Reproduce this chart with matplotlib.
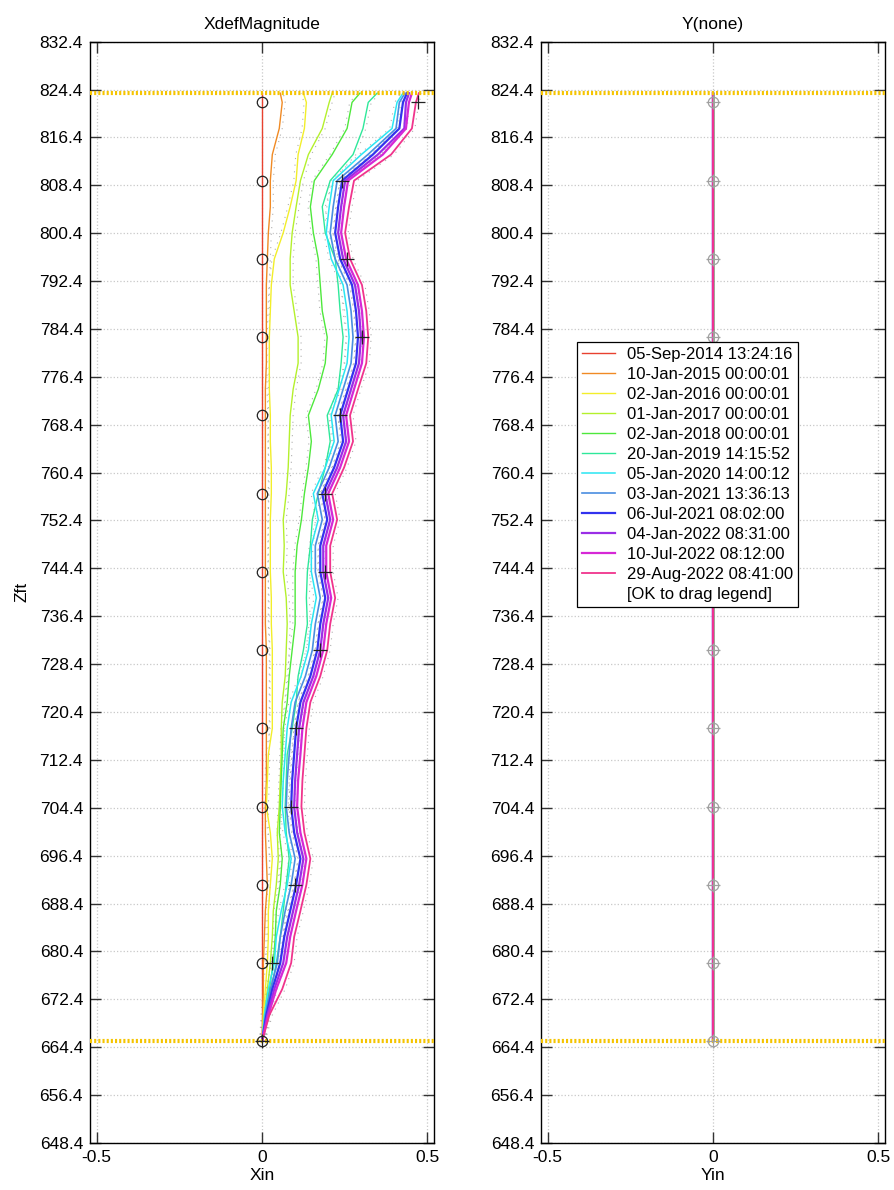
import numpy as np
import matplotlib.pyplot as plt
from matplotlib.lines import Line2D

plt.rcParams['font.family'] = ['Liberation Sans', 'DejaVu Sans']

# depth of each reading (ft): regular stations plus the top reading
depth = np.append(np.linspace(665.4, 822.25, 37), 823.8)
marker_depth = depth[0:37:3]
top_depth = 823.8
bottom_depth = 665.4

survey_dates = ["05-Sep-2014 13:24:16", "10-Jan-2015 00:00:01", "02-Jan-2016 00:00:01",
                "01-Jan-2017 00:00:01", "02-Jan-2018 00:00:01", "20-Jan-2019 14:15:52",
                "05-Jan-2020 14:00:12", "03-Jan-2021 13:36:13", "06-Jul-2021 08:02:00",
                "04-Jan-2022 08:31:00", "10-Jul-2022 08:12:00", "29-Aug-2022 08:41:00"]
colors = ["#e8412f", "#f08a24", "#f2ee2a", "#b4f02c", "#4ee83c", "#2ee89a",
          "#2ae6f2", "#4a8ee0", "#3232ee", "#9a2ee6", "#d628d6", "#f0348c"]
widths = [1.0, 1.0, 1.0, 1.0, 1.0, 1.0, 1.1, 1.2, 1.6, 1.6, 1.6, 1.3]

# cumulative displacement, inches (bottom to top)
x_2014 = [0.0] * len(depth)
x_2015 = [0.0, 0.002, 0.004, 0.004, 0.007, 0.010, 0.016, 0.013, 0.010, 0.010, 0.013, 0.013, 0.013,
          0.013, 0.013, 0.013, 0.010, 0.010, 0.010, 0.010, 0.010, 0.010, 0.010, 0.010, 0.010,
          0.010, 0.013, 0.013, 0.013, 0.013, 0.016, 0.019, 0.025, 0.025, 0.031, 0.052, 0.061, 0.055]
x_2016 = [0.0, 0.004, 0.010, 0.016, 0.019, 0.019, 0.025, 0.031, 0.025, 0.013, 0.016, 0.019, 0.031,
          0.031, 0.031, 0.031, 0.028, 0.028, 0.025, 0.025, 0.025, 0.028, 0.028, 0.025, 0.025,
          0.022, 0.022, 0.022, 0.025, 0.028, 0.037, 0.064, 0.085, 0.103, 0.109, 0.128, 0.134, 0.125]
x_2017 = [0.0, 0.007, 0.016, 0.025, 0.031, 0.034, 0.043, 0.049, 0.046, 0.052, 0.055, 0.058, 0.058,
          0.061, 0.070, 0.073, 0.076, 0.073, 0.064, 0.067, 0.064, 0.073, 0.079, 0.082, 0.085,
          0.094, 0.109, 0.109, 0.097, 0.085, 0.085, 0.091, 0.103, 0.116, 0.140, 0.182, 0.203, 0.212]
x_2018 = [0.0, 0.010, 0.022, 0.034, 0.040, 0.043, 0.055, 0.061, 0.052, 0.055, 0.058, 0.061, 0.064,
          0.076, 0.082, 0.091, 0.100, 0.100, 0.100, 0.106, 0.119, 0.128, 0.140, 0.149, 0.140,
          0.170, 0.191, 0.197, 0.182, 0.176, 0.170, 0.155, 0.146, 0.158, 0.212, 0.257, 0.272, 0.296]
x_2019 = [0.0, 0.013, 0.028, 0.043, 0.055, 0.064, 0.073, 0.082, 0.073, 0.070, 0.073, 0.076, 0.091,
          0.103, 0.109, 0.125, 0.137, 0.134, 0.137, 0.146, 0.152, 0.170, 0.191, 0.206, 0.197,
          0.230, 0.239, 0.245, 0.236, 0.230, 0.221, 0.191, 0.182, 0.206, 0.275, 0.305, 0.321, 0.348]
x_2020 = [0.0, 0.007, 0.019, 0.037, 0.043, 0.058, 0.076, 0.088, 0.070, 0.061, 0.064, 0.070, 0.076,
          0.088, 0.118, 0.140, 0.149, 0.164, 0.149, 0.149, 0.170, 0.155, 0.191, 0.218, 0.209,
          0.233, 0.257, 0.263, 0.257, 0.245, 0.209, 0.194, 0.203, 0.215, 0.300, 0.393, 0.408, 0.426]
x_2021a = [0.0, 0.010, 0.025, 0.046, 0.055, 0.070, 0.088, 0.100, 0.082, 0.073, 0.076, 0.082, 0.088,
           0.100, 0.131, 0.152, 0.161, 0.176, 0.161, 0.161, 0.182, 0.167, 0.203, 0.230, 0.221,
           0.245, 0.269, 0.275, 0.269, 0.257, 0.221, 0.206, 0.215, 0.227, 0.320, 0.405, 0.415, 0.432]
x_2021b = [0.0, 0.013, 0.031, 0.055, 0.067, 0.085, 0.103, 0.116, 0.097, 0.088, 0.091, 0.097, 0.103,
           0.116, 0.146, 0.167, 0.176, 0.191, 0.176, 0.176, 0.197, 0.182, 0.218, 0.245, 0.236,
           0.260, 0.284, 0.290, 0.284, 0.272, 0.236, 0.221, 0.230, 0.242, 0.335, 0.415, 0.426, 0.438]
x_2022a = [0.0, 0.016, 0.037, 0.064, 0.076, 0.094, 0.112, 0.125, 0.106, 0.097, 0.100, 0.106, 0.112,
           0.125, 0.155, 0.176, 0.185, 0.200, 0.185, 0.185, 0.206, 0.191, 0.227, 0.254, 0.245,
           0.269, 0.293, 0.299, 0.293, 0.281, 0.245, 0.230, 0.239, 0.251, 0.350, 0.430, 0.435, 0.444]
x_2022b = [0.0, 0.019, 0.043, 0.073, 0.085, 0.103, 0.122, 0.134, 0.116, 0.106, 0.109, 0.116, 0.122,
           0.134, 0.164, 0.185, 0.194, 0.209, 0.194, 0.194, 0.215, 0.200, 0.236, 0.263, 0.254,
           0.278, 0.302, 0.308, 0.302, 0.290, 0.254, 0.239, 0.248, 0.260, 0.365, 0.435, 0.444, 0.453]
x_2022c = [0.0, 0.022, 0.061, 0.088, 0.097, 0.116, 0.134, 0.146, 0.128, 0.119, 0.122, 0.128, 0.134,
           0.146, 0.176, 0.197, 0.206, 0.221, 0.206, 0.206, 0.227, 0.212, 0.248, 0.275, 0.266,
           0.290, 0.315, 0.321, 0.315, 0.302, 0.266, 0.251, 0.263, 0.278, 0.390, 0.453, 0.465, 0.474]
x_series = [x_2014, x_2015, x_2016, x_2017, x_2018, x_2019,
            x_2020, x_2021a, x_2021b, x_2022a, x_2022b, x_2022c]

# Y direction has no readings
y_series = [[0.0] * len(depth) for _ in survey_dates]

# reference markers
circle_x = [0.0] * len(marker_depth)
plus_x = [0.0, 0.029, 0.099, 0.087, 0.102, 0.175, 0.190, 0.190, 0.235, 0.303, 0.257, 0.242, 0.471]

yticks = np.arange(648.4, 832.5, 8.0)

fig = plt.figure(figsize=(8.95, 11.9), dpi=100)
axL = fig.add_axes([0.1006, 0.0395, 0.3844, 0.9255])
axR = fig.add_axes([0.6045, 0.0395, 0.3844, 0.9255])


def style_axis(ax, title, xlabel):
    ax.set_xlim(-0.52, 0.52)
    ax.set_ylim(648.4, 832.4)
    ax.set_yticks(yticks)
    ax.set_yticklabels(["%.1f" % t for t in yticks])
    ax.set_xticks([-0.5, 0, 0.5])
    ax.set_xticklabels(["-0.5", "0", "0.5"])
    ax.tick_params(direction='in', length=8, width=1, top=True, right=True,
                   labelsize=12.5, pad=5, color='#333333')
    ax.grid(True, color='#c8c8c8', linestyle=':', linewidth=0.9)
    ax.set_axisbelow(True)
    ax.set_title(title, fontsize=12.5, pad=9)
    ax.set_xlabel(xlabel, fontsize=12.5, labelpad=2)
    for sp in ax.spines.values():
        sp.set_linewidth(1.0)
    for d in (top_depth, bottom_depth):
        ax.axhline(d, color='#f5c400', linewidth=3, linestyle=(0, (0.5, 0.5)), zorder=4)


style_axis(axL, "XdefMagnitude", "Xin")
style_axis(axR, "Y(none)", "Yin")
axL.set_ylabel("Zft", fontsize=12.5, labelpad=7)

# left: faint gray raw traces then coloured profiles
for i, xs in enumerate(x_series[1:], start=1):
    off = 0.009 if i % 2 else -0.007
    axL.plot(np.array(xs) + off, depth, color='#b0b0b0', linewidth=0.8,
             linestyle=(0, (1, 5)), zorder=2)
for xs, c, w, lab in zip(x_series, colors, widths, survey_dates):
    axL.plot(xs, depth, color=c, linewidth=w, label=lab, zorder=3)
axL.plot(circle_x, marker_depth, linestyle='none', marker='o', markersize=7.5,
         markerfacecolor='none', markeredgecolor='#222222', markeredgewidth=0.9, zorder=5)
axL.plot(plus_x, marker_depth, linestyle='none', marker='+', markersize=10,
         color='#222222', markeredgewidth=0.9, zorder=5)

# right
for ys, c, w, lab in zip(y_series, colors, widths, survey_dates):
    axR.plot(ys, depth, color=c, linewidth=w, label=lab, zorder=3)
axR.plot(circle_x, marker_depth, linestyle='none', marker='o', markersize=7.5,
         markerfacecolor='none', markeredgecolor='#a0a0a0', markeredgewidth=0.9, zorder=5)
axR.plot(circle_x, marker_depth, linestyle='none', marker='+', markersize=10,
         color='#a0a0a0', markeredgewidth=0.9, zorder=5)

handles = [Line2D([], [], color=c, linewidth=w) for c, w in zip(colors, widths)]
handles.append(Line2D([], [], color='none'))
labels = survey_dates + ["[OK to drag legend]"]
leg = axR.legend(handles, labels, loc='upper left', bbox_to_anchor=(0.105, 0.727),
                 fontsize=12, frameon=True, fancybox=False, edgecolor='black',
                 framealpha=1.0, borderpad=0.3, labelspacing=0.3, handlelength=2.0,
                 handletextpad=0.7, borderaxespad=0)
leg.get_frame().set_linewidth(0.9)
leg.set_zorder(10)

fig.savefig("out.png", dpi=100)
